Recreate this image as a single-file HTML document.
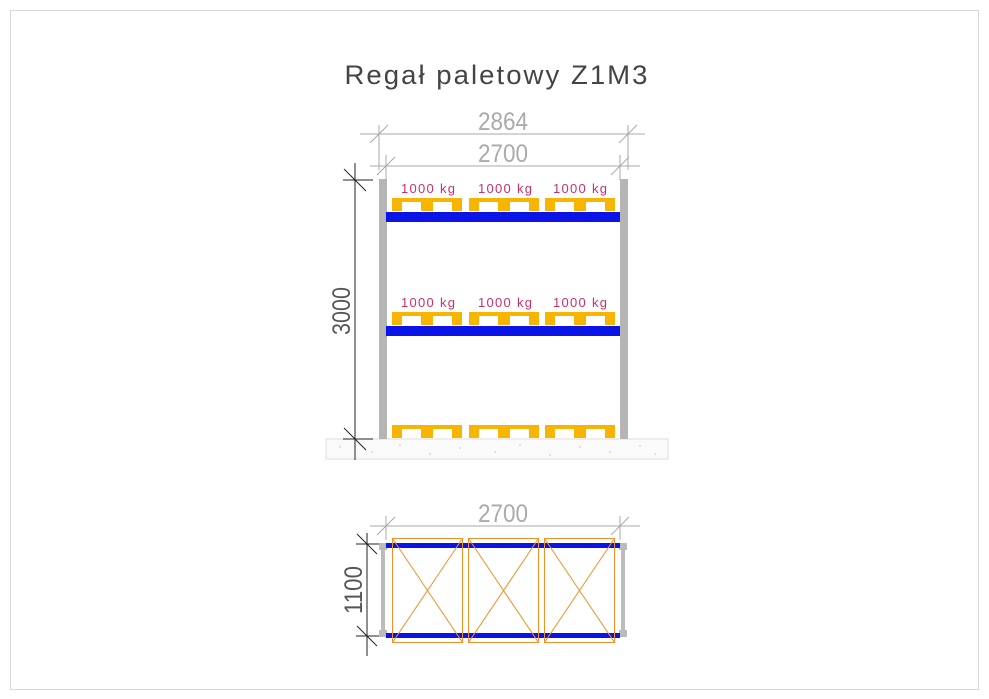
<!DOCTYPE html>
<html><head><meta charset="utf-8"><style>html,body{margin:0;padding:0;background:#fff}svg{display:block}</style></head>
<body>
<svg width="989" height="699" viewBox="0 0 989 699" xmlns="http://www.w3.org/2000/svg" font-family="Liberation Sans, sans-serif">
<rect x="10.5" y="10.5" width="968" height="679" fill="none" stroke="#d8d8d8"/>
<text x="497" y="84" font-size="27" fill="#444" text-anchor="middle" textLength="305" lengthAdjust="spacingAndGlyphs" letter-spacing="2">Regał paletowy Z1M3</text>

<!-- floor -->
<rect x="326" y="439" width="342" height="20" fill="#fafafa" stroke="#ddd"/>
<g fill="#bbb">
<circle cx="340" cy="447" r=".7"/><circle cx="372" cy="452" r=".7"/><circle cx="400" cy="445" r=".7"/><circle cx="430" cy="454" r=".7"/><circle cx="460" cy="448" r=".7"/><circle cx="495" cy="452" r=".7"/><circle cx="520" cy="445" r=".7"/><circle cx="550" cy="455" r=".7"/><circle cx="580" cy="447" r=".7"/><circle cx="610" cy="452" r=".7"/><circle cx="640" cy="446" r=".7"/><circle cx="655" cy="454" r=".7"/>
</g>

<!-- dims top -->
<g stroke="#aaa" stroke-width="1" fill="none">
<line x1="360" y1="134" x2="645" y2="134"/>
<line x1="379" y1="125" x2="379" y2="170"/>
<line x1="628" y1="125" x2="628" y2="170"/>
<line x1="370" y1="143" x2="388" y2="125"/>
<line x1="619" y1="143" x2="637" y2="125"/>
<line x1="370" y1="166" x2="640" y2="166"/>
<line x1="386" y1="155" x2="386" y2="180"/>
<line x1="620" y1="155" x2="620" y2="180"/>
<line x1="377" y1="175" x2="395" y2="157"/>
<line x1="611" y1="175" x2="629" y2="157"/>
</g>
<text x="503" y="130" font-size="25" fill="#aaa" text-anchor="middle" textLength="50" lengthAdjust="spacingAndGlyphs">2864</text>
<text x="503" y="162" font-size="25" fill="#aaa" text-anchor="middle" textLength="50" lengthAdjust="spacingAndGlyphs">2700</text>

<!-- vertical dim -->
<g stroke="#222" stroke-width="1">
<line x1="355" y1="163" x2="355" y2="460"/>
<line x1="343" y1="180" x2="373" y2="180"/>
<line x1="343" y1="439" x2="373" y2="439"/>
<line x1="344" y1="169" x2="366" y2="191"/>
<line x1="344" y1="428" x2="366" y2="450"/>
</g>
<text transform="translate(350,311) rotate(-90)" font-size="25" fill="#555" text-anchor="middle" textLength="48" lengthAdjust="spacingAndGlyphs">3000</text>

<!-- uprights -->
<rect x="379" y="179" width="8" height="260" fill="#b5b5b5"/>
<rect x="620" y="179" width="8" height="260" fill="#b5b5b5"/>

<!-- beams -->
<rect x="386" y="212" width="234" height="10" fill="#0a14e6"/>
<rect x="386" y="326" width="234" height="10" fill="#0a14e6"/>

<defs>
<g id="pal" fill="#f7b500">
<rect x="0" y="0" width="70" height="4"/>
<rect x="0" y="0" width="10" height="13"/>
<rect x="29" y="0" width="12" height="13"/>
<rect x="60" y="0" width="10" height="13"/>
</g>
</defs>
<g>
<use href="#pal" x="392" y="198"/><use href="#pal" x="469" y="198"/><use href="#pal" x="545" y="198"/>
<use href="#pal" x="392" y="312"/><use href="#pal" x="469" y="312"/><use href="#pal" x="545" y="312"/>
<use href="#pal" x="392" y="425"/><use href="#pal" x="469" y="425"/><use href="#pal" x="545" y="425"/>
</g>
<g font-size="13" fill="#c8306a" text-anchor="middle">
<text x="428" y="193" textLength="54">1000 kg</text><text x="505" y="193" textLength="54">1000 kg</text><text x="580" y="193" textLength="54">1000 kg</text>
<text x="428" y="307" textLength="54">1000 kg</text><text x="505" y="307" textLength="54">1000 kg</text><text x="580" y="307" textLength="54">1000 kg</text>
</g>

<!-- top view -->
<g stroke="#aaa" stroke-width="1">
<line x1="370" y1="526" x2="640" y2="526"/>
<line x1="386" y1="516" x2="386" y2="540"/>
<line x1="620" y1="516" x2="620" y2="540"/>
<line x1="377" y1="535" x2="395" y2="517"/>
<line x1="611" y1="535" x2="629" y2="517"/>
</g>
<text x="503" y="522" font-size="25" fill="#aaa" text-anchor="middle" textLength="50" lengthAdjust="spacingAndGlyphs">2700</text>

<g stroke="#222" stroke-width="1">
<line x1="367" y1="533" x2="367" y2="656"/>
<line x1="356" y1="544" x2="385" y2="544"/>
<line x1="356" y1="636" x2="385" y2="636"/>
<line x1="357" y1="534" x2="377" y2="554"/>
<line x1="357" y1="626" x2="377" y2="646"/>
</g>
<text transform="translate(362,590) rotate(-90)" font-size="25" fill="#555" text-anchor="middle" textLength="48" lengthAdjust="spacingAndGlyphs">1100</text>

<rect x="381" y="548" width="4" height="84" fill="#bbb"/>
<rect x="621" y="548" width="4" height="84" fill="#bbb"/>
<rect x="379" y="543" width="8" height="7" fill="#bbb"/>
<rect x="379" y="630" width="8" height="7" fill="#bbb"/>
<rect x="619" y="543" width="8" height="7" fill="#bbb"/>
<rect x="619" y="630" width="8" height="7" fill="#bbb"/>
<rect x="386" y="543" width="234" height="5" fill="#0a14e6"/>
<rect x="386" y="633" width="234" height="5" fill="#0a14e6"/>
<g stroke="#f0902a" stroke-width="1" fill="none">
<rect x="392.5" y="538.5" width="70" height="104"/><line x1="392.5" y1="538.5" x2="462.5" y2="642.5"/><line x1="462.5" y1="538.5" x2="392.5" y2="642.5"/>
<rect x="468.5" y="538.5" width="70" height="104"/><line x1="468.5" y1="538.5" x2="538.5" y2="642.5"/><line x1="538.5" y1="538.5" x2="468.5" y2="642.5"/>
<rect x="544.5" y="538.5" width="70" height="104"/><line x1="544.5" y1="538.5" x2="614.5" y2="642.5"/><line x1="614.5" y1="538.5" x2="544.5" y2="642.5"/>
</g>
</svg>
</body></html>
